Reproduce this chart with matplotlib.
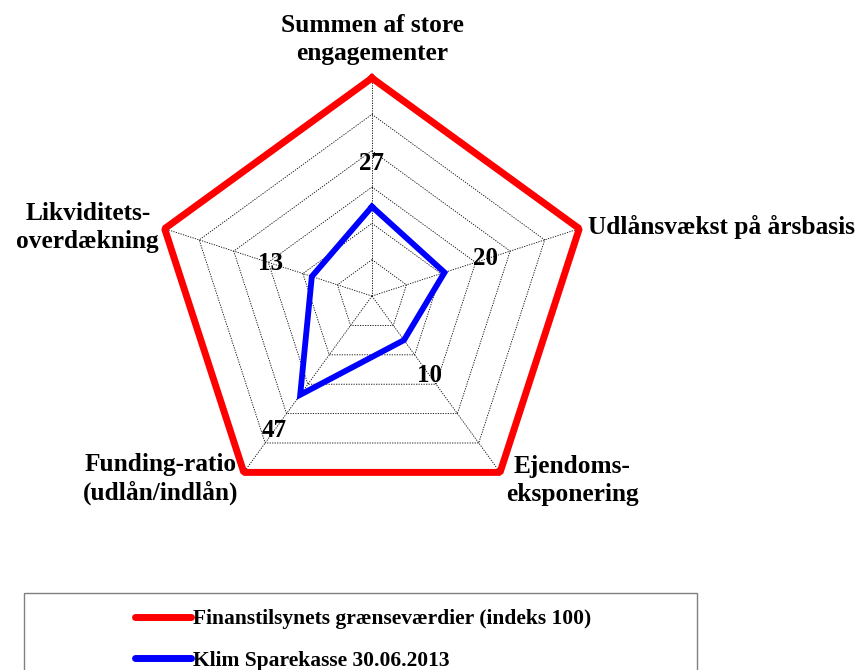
import numpy as np
import matplotlib.pyplot as plt
from matplotlib.lines import Line2D
from matplotlib.patches import Rectangle

plt.rcParams['font.family'] = ['Liberation Serif', 'DejaVu Serif']
plt.rcParams['font.weight'] = 'bold'

# Kategorier (med uret fra toppen)
categories = ['Summen af store\nengagementer', 'Udlånsvækst på årsbasis',
              'Ejendoms-\neksponering', 'Funding-ratio\n(udlån/indlån)',
              'Likviditets-\noverdækning']
limit_index = [100, 100, 100, 100, 100]
klim_index = [41, 35, 25, 56, 29]
klim_labels = ['27', '20', '10', '47', '13']
ring_levels = [100 / 6 * k for k in range(1, 6)]

series_names = ['Finanstilsynets grænseværdier (indeks 100)',
                'Klim Sparekasse 30.06.2013']

n = len(categories)
angles = np.linspace(0, 2 * np.pi, n, endpoint=False)
closed = np.append(angles, angles[0])

fig = plt.figure(figsize=(8.6, 6.7), dpi=100)
ax = fig.add_axes([0.179, 0.2328, 0.507, 0.6507], projection='polar')
ax.set_theta_offset(np.pi / 2)
ax.set_theta_direction(-1)
ax.set_ylim(0, 100)
ax.grid(False)
ax.spines['polar'].set_visible(False)
ax.set_xticks([])
ax.set_yticks([])
ax.patch.set_alpha(0)

# gitterlinjer som femkanter
for lvl in ring_levels:
    ax.plot(closed, [lvl] * (n + 1), color='black', lw=0.6, ls=(0, (1.5, 1.5)))
for a in angles:
    ax.plot([a, a], [0, 100], color='black', lw=0.6, ls=(0, (1.5, 1.5)))

ax.plot(closed, limit_index + limit_index[:1], color='#ff0000', lw=5,
        solid_joinstyle='bevel', clip_on=False, zorder=3)
ax.plot(closed, klim_index + klim_index[:1], color='#0000ff', lw=4.2,
        solid_joinstyle='miter', zorder=4)

# dataetiketter
for a, v, lab in zip(angles, klim_index, klim_labels):
    ax.text(a, v + 20, lab, ha='center', va='center', fontsize=18,
            fontweight='bold', zorder=5)

# kategoritekster
label_offsets = [(0, 9.5), (6, 1), (4, -6), (-4, -5), (-4, 1)]
label_align = [('center', 'bottom'), ('left', 'center'), ('left', 'center'),
               ('right', 'center'), ('right', 'center')]
for a, cat, off, (ha, va) in zip(angles, categories, label_offsets, label_align):
    ax.annotate(cat, xy=(a, 100), xytext=off, textcoords='offset points',
                ha=ha, va=va, fontsize=18.3, fontweight='bold',
                multialignment='center', linespacing=1.25,
                annotation_clip=False)

# forklaring
fig.patches.append(Rectangle((24 / 860, -0.1), (697 - 24) / 860, 0.1 + (670 - 593) / 670,
                             transform=fig.transFigure, fill=False,
                             edgecolor='#808080', lw=1))
handles = [Line2D([], [], color='#ff0000', lw=5, solid_capstyle='round'),
           Line2D([], [], color='#0000ff', lw=5, solid_capstyle='round')]
fig.legend(handles, series_names, loc='upper left',
           bbox_to_anchor=(118 / 860, 1 - 592 / 670), frameon=False,
           handlelength=2.6, handletextpad=0.1, labelspacing=1.0,
           borderpad=0.3, prop={'size': 15.5, 'weight': 'bold'})

fig.savefig('out.png', dpi=100)
